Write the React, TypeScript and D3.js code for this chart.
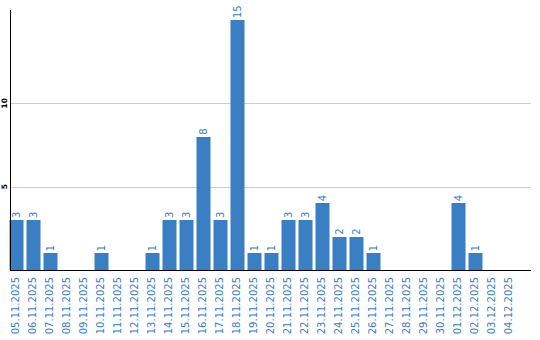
import React from "react";
import * as d3 from "d3";

const categories = [
  "05.11.2025", "06.11.2025", "07.11.2025", "08.11.2025", "09.11.2025",
  "10.11.2025", "11.11.2025", "12.11.2025", "13.11.2025", "14.11.2025",
  "15.11.2025", "16.11.2025", "17.11.2025", "18.11.2025", "19.11.2025",
  "20.11.2025", "21.11.2025", "22.11.2025", "23.11.2025", "24.11.2025",
  "25.11.2025", "26.11.2025", "27.11.2025", "28.11.2025", "29.11.2025",
  "30.11.2025", "01.12.2025", "02.12.2025", "03.12.2025", "04.12.2025",
];
const values = [3, 3, 1, 0, 0, 1, 0, 0, 1, 3, 3, 8, 3, 15, 1, 1, 3, 3, 4, 2, 2, 1, 0, 0, 0, 0, 4, 1, 0, 0];
const yTicks = [5, 10];

const W = 540;
const H = 340;
const left = 10;
const right = 531;
const top = 10;
const bottom = 270;
const BLUE = "#3a7ec3";
const FONT = "'DejaVu Sans', Verdana, sans-serif";

export default function App() {
  const x = d3
    .scaleBand<string>()
    .domain(categories)
    .range([left - 0.5, left - 0.5 + 17 * categories.length])
    .paddingInner(3 / 17)
    .paddingOuter(1.5 / 17)
    .align(0);
  const y = d3.scaleLinear().domain([0, 15.6]).range([bottom, top]);

  return (
    <svg
      width={W}
      height={H}
      style={{ position: "absolute", left: 0, top: 0, background: "#fff" }}
    >
      {yTicks.map((t) => (
        <g key={t}>
          <line x1={left} x2={right} y1={Math.round(y(t)) + 0.5} y2={Math.round(y(t)) + 0.5} stroke="#cccccc" strokeWidth={1} />
          <text
            transform={`translate(7,${y(t)}) rotate(-90)`}
            textAnchor="middle"
            fontSize={7.5}
            fontWeight="bold"
            fontFamily={FONT}
            fill="#000"
          >
            {t}
          </text>
        </g>
      ))}
      {categories.map((c, i) => {
        const v = values[i];
        const bx = x(c)!;
        const cx = bx + x.bandwidth() / 2;
        return (
          <g key={c}>
            {v > 0 && (
              <rect x={bx} y={Math.round(y(v))} width={x.bandwidth()} height={bottom - Math.round(y(v))} fill={BLUE} />
            )}
            {v > 0 && (
              <text
                transform={`translate(${cx},${y(v) - 2}) rotate(-90)`}
                textAnchor="start"
                dy="0.35em"
                fontSize={10}
                fontFamily={FONT}
                fill={BLUE}
              >
                {v}
              </text>
            )}
            <text
              transform={`translate(${cx - 1},${bottom + 7}) rotate(-90)`}
              textAnchor="end"
              dy="0.35em"
              fontSize={10}
              fontFamily={FONT}
              fill={BLUE}
            >
              {c}
            </text>
          </g>
        );
      })}
      <line x1={left + 0.5} x2={left + 0.5} y1={top} y2={bottom} stroke="#000" strokeWidth={1} />
      <line x1={left} x2={right} y1={bottom + 0.5} y2={bottom + 0.5} stroke="#000" strokeWidth={1} />
    </svg>
  );
}
